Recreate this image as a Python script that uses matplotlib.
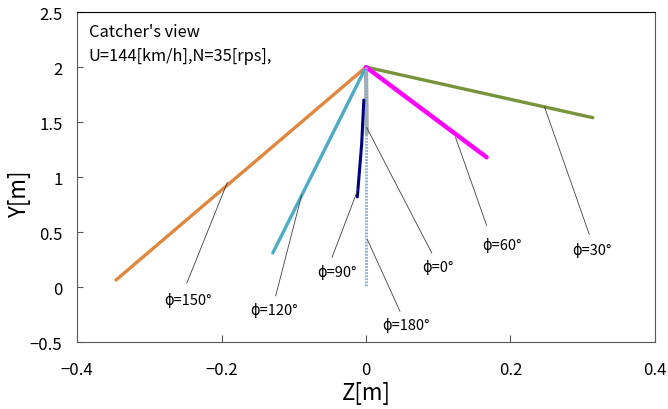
import matplotlib
matplotlib.use("Agg")
import matplotlib.pyplot as plt

plt.rcParams['font.family'] = ['Noto Sans CJK JP', 'DejaVu Sans']

# trajectories (Z, Y) in metres, one per phase angle
z_150 = [0.0, -0.346]
y_150 = [2.0, 0.064]
z_120 = [0.0, -0.129]
y_120 = [2.0, 0.31]
z_90 = [-0.003, -0.006, -0.012]
y_90 = [1.70, 1.30, 0.82]
z_0 = [0.0, 0.001]
y_0 = [2.0, 1.40]
z_180 = [0.0, 0.0]
y_180 = [2.0, 0.0]
z_60 = [0.0, 0.167]
y_60 = [2.0, 1.18]
z_30 = [0.0, 0.314]
y_30 = [2.0, 1.54]

# leader lines: point on curve -> tip near the label
labels = ["ϕ=150°", "ϕ=120°", "ϕ=90°", "ϕ=0°", "ϕ=180°", "ϕ=60°", "ϕ=30°"]
anchor_z = [-0.192, -0.089, -0.011, 0.001, 0.002, 0.124, 0.247]
anchor_y = [0.95, 0.836, 0.89, 1.45, 0.43, 1.36, 1.64]
tip_z = [-0.248, -0.125, -0.047, 0.091, 0.047, 0.167, 0.309]
tip_y = [0.036, -0.08, 0.27, 0.31, -0.22, 0.56, 0.48]
text_z = [-0.246, -0.127, -0.040, 0.100, 0.055, 0.188, 0.313]
text_y = [-0.11, -0.20, 0.145, 0.19, -0.345, 0.39, 0.345]

fig = plt.figure(figsize=(6.68, 4.10), dpi=100)
ax = fig.add_axes([0.1153, 0.1634, 0.8652, 0.8046])

ax.plot(z_0, y_0, color="#a6a6a6", lw=3, solid_capstyle="round", zorder=2)
ax.plot(z_150, y_150, color="#e0873f", lw=2.4, solid_capstyle="round", zorder=3)
ax.plot(z_120, y_120, color="#4bacc6", lw=2.4, solid_capstyle="round", zorder=3)
ax.plot(z_30, y_30, color="#77933c", lw=2.4, solid_capstyle="round", zorder=3)
ax.plot(z_60, y_60, color="#ff00ff", lw=3.2, solid_capstyle="round", zorder=3)
ax.plot(z_180, y_180, color="#95b3d7", lw=2.2, ls=(0, (0.6, 0.4)), zorder=4)
ax.plot(z_90, y_90, color="#000080", lw=2.2, solid_capstyle="round", zorder=5)

for lab, az, ay, tz, ty, pz, py in zip(labels, anchor_z, anchor_y, text_z, text_y, tip_z, tip_y):
    ax.plot([az, pz], [ay, py], color="#404040", lw=0.6, zorder=6)
    ax.text(tz, ty, lab, fontsize=10.5, ha="center", va="center", zorder=7)

ax.text(-0.384, 2.32, "Catcher's view", fontsize=11.8, ha="left", va="center")
ax.text(-0.384, 2.11, "U=144[km/h],N=35[rps],", fontsize=11.8, ha="left", va="center")

ax.set_xlim(-0.4, 0.4)
ax.set_ylim(-0.5, 2.5)
ax.set_xticks([-0.4, -0.2, 0, 0.2, 0.4])
ax.set_xticklabels(["\u22120.4", "\u22120.2", "0", "0.2", "0.4"])
ax.set_yticks([-0.5, 0, 0.5, 1, 1.5, 2, 2.5])
ax.set_yticklabels(["\u22120.5", "0", "0.5", "1", "1.5", "2", "2.5"])
ax.tick_params(axis="x", direction="in", length=5, labelsize=12, pad=14, color="#595959")
ax.tick_params(axis="y", direction="in", length=4, labelsize=12, pad=10.5, color="#595959")
for s in ["left", "bottom", "right"]:
    ax.spines[s].set_color("#595959")
ax.spines["top"].set_color("#000000")

ax.set_xlabel("Z[m]", fontsize=16, labelpad=1.5)
ax.set_ylabel("Y[m]", fontsize=16, va="center")
ax.yaxis.set_label_coords(-0.100, 0.45)

fig.savefig("out.png", dpi=100)
